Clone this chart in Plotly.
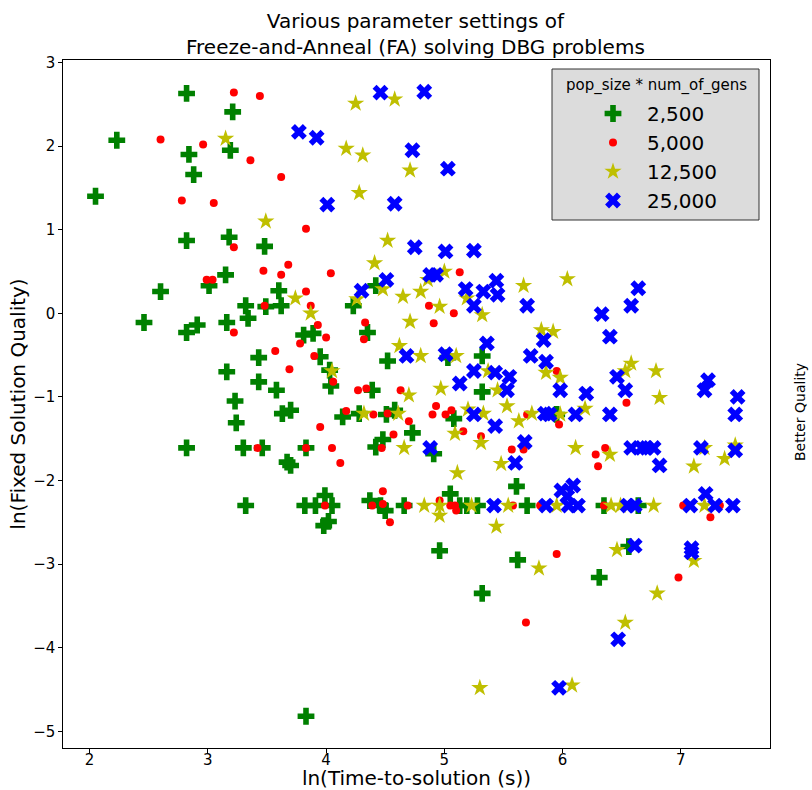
import plotly.graph_objects as go

# pop_size * num_of_gens = 2,500
g_x = [2.82, 3.21, 2.23, 2.84, 3.19, 2.88, 2.05, 2.82, 3.18, 3.48, 3.15, 3.01, 2.60, 3.60, 4.42,
       3.32, 3.49, 3.62, 2.46, 2.82, 2.91, 3.16, 3.34, 3.81, 3.89, 3.43, 3.16, 3.43, 3.58, 3.23,
       3.24, 3.63, 3.70, 2.82, 3.30, 3.46, 3.83, 3.67, 3.70, 3.32, 4.23, 4.35, 3.95, 4.03, 4.04,
       4.52, 5.03, 5.32, 5.32, 4.39, 5.08, 5.61, 4.91, 4.48, 4.42, 4.73, 4.14, 4.28, 4.51, 4.58,
       3.82, 3.91, 4.05, 3.99, 4.37, 4.46, 4.50, 4.66, 5.05, 5.13, 5.19, 5.28, 5.70, 3.98, 4.02,
       4.96, 5.62, 5.32, 3.83, 6.35, 6.64, 6.56, 6.31, 5.95]
g_y = [2.63, 2.41, 2.07, 1.90, 1.95, 1.66, 1.40, 0.87, 0.91, 0.80, 0.46, 0.33, 0.26, 0.27, 0.33,
       0.09, 0.08, 0.09, -0.11, -0.23, -0.14, -0.11, -0.06, -0.26, -0.24, -0.53, -0.70, -0.82, -0.92, -1.05,
       -1.31, -1.20, -1.16, -1.61, -1.61, -1.61, -1.61, -1.78, -1.82, -2.30, 0.09, -0.23, -0.52, -0.68, -0.87,
       -0.57, -0.53, -0.51, -0.94, -0.92, -1.26, -2.07, -1.68, -1.51, -1.60, -1.43, -1.24, -1.20, -1.21, -1.16,
       -2.30, -2.30, -2.30, -2.18, -2.24, -2.30, -2.36, -2.30, -2.16, -2.30, -2.30, -2.30, -2.30, -2.54, -2.49,
       -2.84, -2.95, -3.35, -4.82, -2.30, -2.30, -2.79, -3.16, -1.21]

# 5,000
r_x = [3.22, 3.44, 2.60, 2.96, 3.36, 3.62, 2.78, 3.05, 3.22, 3.68, 3.47, 3.62, 2.99, 3.04, 3.83,
       4.04, 3.83, 5.13, 3.48, 3.22, 3.78, 3.57, 3.69, 3.42, 3.87, 4.87, 5.08, 4.91, 3.93, 4.00,
       4.33, 4.32, 3.90, 4.06, 4.27, 4.34, 4.63, 4.93, 4.90, 5.01, 5.06, 5.16, 5.31, 5.57, 5.67,
       5.70, 4.57, 4.47, 4.70, 4.17, 4.40, 4.52, 3.95, 4.05, 3.83, 4.12, 3.99, 4.39, 4.48, 4.48,
       4.69, 4.96, 5.05, 5.09, 5.10, 4.54, 5.69, 5.95, 5.97, 6.54, 6.36, 6.28, 6.30, 5.81, 6.35,
       7.02, 7.33, 7.25, 5.95, 6.98, 5.58]
r_y = [2.64, 2.60, 2.08, 2.02, 1.83, 1.63, 1.35, 1.32, 0.79, 0.58, 0.51, 0.46, 0.40, 0.40, 1.01,
       0.48, 0.26, 0.49, 0.09, -0.23, -0.36, -0.45, -0.67, -1.61, 0.09, 0.09, 0.00, -0.12, -0.14, -0.29,
       -0.11, -0.31, -0.51, -0.82, -0.92, -0.90, -0.92, -1.11, -1.21, -1.21, -1.16, -1.41, -1.47, -1.63, -1.63,
       -1.21, -1.45, -1.61, -1.29, -1.17, -1.21, -1.20, -1.36, -1.61, -1.61, -1.79, -2.30, -2.30, -2.13, -2.28,
       -2.30, -2.24, -2.30, -2.30, -2.36, -2.50, -3.70, -0.69, -1.33, -1.07, -1.61, -1.69, -1.83, -2.30, -2.30,
       -2.30, -2.30, -2.44, -2.88, -3.16, -2.30]

# 12,500
y_x = [3.15, 3.49, 3.74, 4.25, 4.58, 4.17, 4.31, 4.71, 4.28, 4.52, 4.41, 4.48, 4.86, 5.00, 5.67,
       4.80, 4.65, 3.87, 4.26, 4.96, 4.71, 5.19, 5.32, 6.04, 4.05, 4.62, 4.80, 5.10, 5.37, 4.97,
       5.45, 5.82, 5.86, 5.53, 5.63, 5.74, 4.70, 5.20, 5.33, 5.09, 5.31, 5.48, 5.11, 4.66, 4.32,
       4.61, 4.83, 4.96, 4.96, 5.23, 5.54, 5.44, 5.80, 5.30, 5.95, 6.41, 6.49, 6.77, 7.20, 6.46,
       7.11, 6.80, 6.53, 6.08, 5.92, 5.98, 6.19, 6.53, 6.58, 6.79, 6.82, 5.98, 6.11, 6.40, 7.20,
       7.11, 7.37, 7.46]
y_y = [2.09, 1.10, 0.18, 2.51, 2.56, 1.97, 1.89, 1.71, 1.44, 0.87, 0.60, 0.29, 0.40, 0.50, 0.33,
       0.26, 0.20, 0.00, 0.17, 0.08, -0.10, 0.18, -0.02, 0.41, -0.69, -0.39, -0.51, -0.51, -0.69, -0.90,
       -0.92, -0.20, -0.71, -1.11, -1.29, -1.20, -0.98, -1.15, -1.20, -1.44, -1.55, -1.80, -1.91, -1.61, -1.20,
       -1.20, -2.30, -2.30, -2.42, -2.30, -2.30, -2.55, -3.05, -4.48, -2.30, -2.30, -2.30, -2.30, -2.30, -2.83,
       -2.96, -3.35, -3.70, -4.45, -0.22, -0.77, -1.14, -0.69, -0.60, -0.69, -1.01, -1.21, -1.61, -1.69, -1.61,
       -1.83, -1.74, -1.58]

# 25,000
b_x = [3.77, 4.46, 4.83, 3.92, 4.73, 5.03, 4.01, 4.58, 4.75, 5.01, 5.25, 4.51, 4.30, 4.88, 4.93,
       5.44, 5.18, 5.33, 5.45, 6.64, 5.25, 5.70, 4.68, 5.01, 5.36, 5.25, 5.43, 5.55, 5.13, 5.53,
       5.73, 5.84, 5.86, 5.85, 5.25, 5.43, 5.68, 5.60, 4.88, 5.42, 5.86, 6.05, 6.13, 6.55, 6.61,
       7.08, 7.29, 7.44, 6.61, 7.09, 7.09, 6.47, 5.97, 6.58, 6.33, 6.40, 5.98, 6.20, 6.46, 6.53,
       7.23, 7.20, 7.48, 7.46, 5.89, 6.11, 6.40, 6.58, 6.67, 6.71, 6.77, 6.82, 7.17, 7.46, 7.21,
       5.99, 6.09, 6.04]
b_y = [2.17, 2.64, 2.65, 2.10, 1.95, 1.73, 1.30, 1.31, 0.79, 0.74, 0.75, 0.40, 0.27, 0.46, 0.46,
       0.39, 0.29, 0.26, 0.22, 0.30, 0.09, 0.09, -0.51, -0.49, -0.36, -0.69, -0.71, -0.76, -0.84, -0.92,
       -0.51, -0.32, -0.58, -1.20, -1.21, -1.35, -1.54, -1.79, -1.61, -2.30, -2.30, -2.30, -2.30, -2.30, -2.30,
       -2.30, -2.30, -2.30, -2.78, -2.81, -2.86, -3.90, -4.48, 0.09, -0.01, -0.28, -0.92, -0.96, -0.76, -0.92,
       -0.80, -0.92, -1.00, -1.21, -1.21, -1.21, -1.21, -1.61, -1.61, -1.61, -1.61, -1.82, -1.61, -1.64, -2.16,
       -2.12, -2.06, -2.19]

series_names = ["2,500", "5,000", "12,500", "25,000"]
series = [(g_x, g_y), (r_x, r_y), (y_x, y_y), (b_x, b_y)]
styles = [
    dict(symbol="cross", color="#008000", size=14),
    dict(symbol="circle", color="#ff0000", size=8),
    dict(symbol="star", color="#bfbf00", size=13),
    dict(symbol="x", color="#0000ff", size=14),
]

GAP = "\u2002\u2009"  # extra gap between legend symbol and label

fig = go.Figure()
for name, (xs, ys), st in zip(series_names, series, styles):
    fig.add_trace(go.Scatter(
        x=xs, y=ys, mode="markers", name=GAP + name,
        marker=dict(symbol=st["symbol"], color=st["color"], size=st["size"],
                    line=dict(width=0)),
    ))

FONT = "DejaVu Sans"
L, R, T, B = 63, 42, 60, 42
PW, PH = 812 - L - R, 790 - T - B


def px_x(p):
    return (p - L) / PW


def px_y(p):
    return (790 - B - p) / PH


fig.update_layout(
    width=812, height=790,
    margin=dict(l=L, r=R, t=T, b=B),
    paper_bgcolor="white", plot_bgcolor="white",
    font=dict(family=FONT, color="black", size=15),
    showlegend=True,
    legend=dict(x=px_x(593), xanchor="left", y=px_y(94), yanchor="top",
                bgcolor="rgba(0,0,0,0)", borderwidth=0,
                font=dict(size=20, family=FONT), itemsizing="trace",
                tracegroupgap=0),
    shapes=[dict(type="rect", xref="paper", yref="paper",
                 x0=px_x(552), x1=px_x(759), y0=px_y(220), y1=px_y(69),
                 fillcolor="#dcdcdc", line=dict(color="#333333", width=1), layer="above")],
    annotations=[
        dict(text="Various parameter settings of<br>Freeze-and-Anneal (FA) solving DBG problems",
             xref="paper", yref="paper", x=px_x(415), y=px_y(33.5),
             xanchor="center", yanchor="middle", showarrow=False,
             font=dict(size=20, family=FONT)),
        dict(text="pop_size * num_of_gens", xref="paper", yref="paper",
             x=px_x(656), y=px_y(86), xanchor="center", yanchor="middle",
             showarrow=False, font=dict(size=15, family=FONT)),
        dict(text="Better Quality", xref="paper", yref="paper",
             x=px_x(800), y=px_y(412), xanchor="center", yanchor="middle",
             textangle=-90, showarrow=False, font=dict(size=14, family=FONT)),
    ],
)
fig.update_xaxes(range=[1.775, 7.754], tickmode="linear", tick0=2, dtick=1,
                 showgrid=False, zeroline=False, showline=True, mirror=True,
                 linecolor="black", linewidth=1.2, ticks="outside", ticklen=3.5,
                 tickcolor="black", tickfont=dict(size=15), ticklabelstandoff=-6,
                 title=dict(text="ln(Time-to-solution (s))", font=dict(size=20), standoff=2),
                 automargin=False)
fig.update_yaxes(range=[-5.2, 3.03], tickmode="linear", tick0=0, dtick=1,
                 showgrid=False, zeroline=False, showline=True, mirror=True,
                 linecolor="black", linewidth=1.2, ticks="outside", ticklen=3.5,
                 tickcolor="black", tickfont=dict(size=15),
                 title=dict(text="ln(Fixed Solution Quality)", font=dict(size=20), standoff=2),
                 automargin=False)

fig.write_html("out.html")
